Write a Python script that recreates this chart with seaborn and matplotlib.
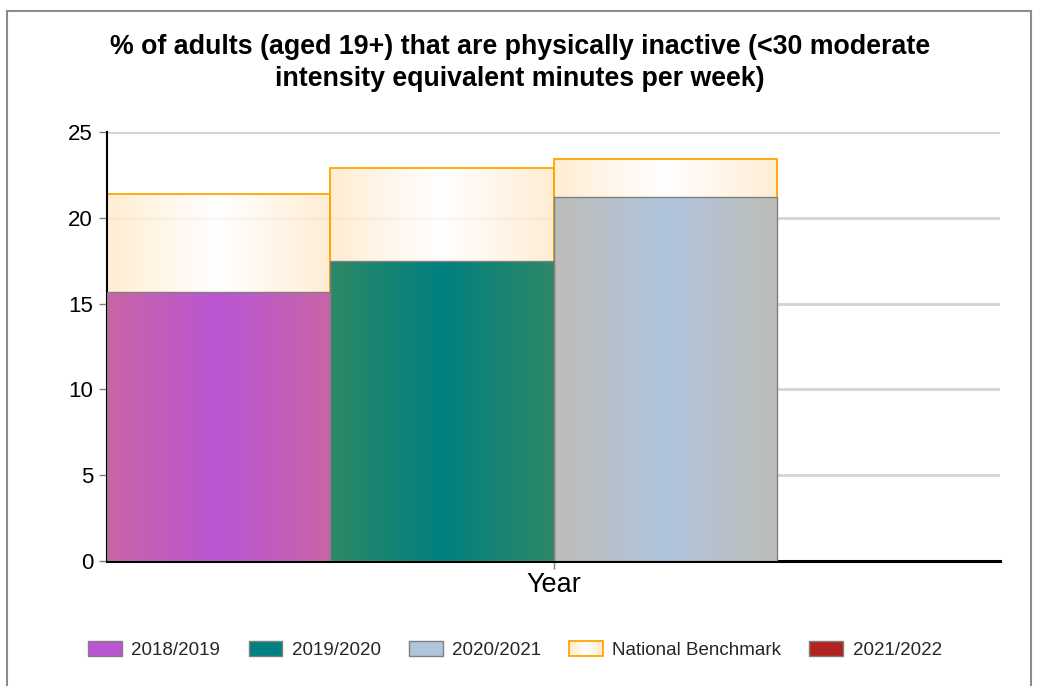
import numpy as np
import pandas as pd
import matplotlib
matplotlib.use("Agg")
import matplotlib.pyplot as plt
import seaborn as sns
from matplotlib.colors import to_rgb
from matplotlib.patches import Rectangle, Patch
from matplotlib.legend_handler import HandlerBase

# ---- data -------------------------------------------------------------
category = "Year"
periods = ["2018/2019", "2019/2020", "2020/2021", "2021/2022"]
inactive_pct = [15.7, 17.5, 21.2, np.nan]
benchmark_pct = [21.4, 22.9, 23.4, np.nan]
benchmark_label = "National Benchmark"
title = ("% of adults (aged 19+) that are physically inactive (<30 moderate\n"
         "intensity equivalent minutes per week)")

# ---- styling ------------------------------------------------------------
centre_colors = {"2018/2019": "#BA55D3", "2019/2020": "#008080",
                 "2020/2021": "#B0C4DE", "2021/2022": "#B22222"}
side_colors = {"2018/2019": "#C865A6", "2019/2020": "#2E8866",
               "2020/2021": "#BDBDB8", "2021/2022": "#B22222"}
bench_centre, bench_side, bench_edge = "#FFFFFF", "#FFEBCC", "#FFA500"

sns.set_theme(style="white")
plt.rcParams["font.family"] = ["Liberation Sans", "DejaVu Sans"]


def gradient(side, centre, n=256):
    t = np.abs(np.linspace(-1, 1, n))[:, None]
    s, c = np.array(to_rgb(side)), np.array(to_rgb(centre))
    return (c * (1 - t) + s * t)[None, :, :]


fig = plt.figure(figsize=(10.4, 6.86), dpi=100)
ax = fig.add_axes([107 / 1040, 1 - 561 / 686, 893 / 1040, 429 / 686])

df_bench = pd.DataFrame({"cat": [category] * len(periods), "period": periods,
                         "value": benchmark_pct})
df_main = pd.DataFrame({"cat": [category] * len(periods), "period": periods,
                        "value": inactive_pct})

sns.barplot(data=df_bench, x="cat", y="value", hue="period", hue_order=periods,
            palette=centre_colors, width=1.0, dodge=True, errorbar=None,
            legend=False, edgecolor=bench_edge, linewidth=1.3, zorder=2, ax=ax)
n_bench = len(ax.patches)
sns.barplot(data=df_main, x="cat", y="value", hue="period", hue_order=periods,
            palette=centre_colors, width=1.0, dodge=True, errorbar=None,
            legend=False, edgecolor="#808080", linewidth=1.0, zorder=3, ax=ax)

# replace flat fills with a horizontal side-centre-side gradient
slot = 1.0 / len(periods)
for i, p in enumerate(ax.patches):
    h = p.get_height()
    if not np.isfinite(h) or h == 0:
        continue
    x0, w = p.get_x(), p.get_width()
    k = int(round((x0 + w / 2 + 0.5) / slot - 0.5))
    if i < n_bench:
        img, alpha = gradient(bench_side, bench_centre), 0.85
    else:
        img, alpha = gradient(side_colors[periods[k]], centre_colors[periods[k]]), 1.0
    p.set_facecolor("none")
    im = ax.imshow(img, extent=[x0, x0 + w, 0, h], aspect="auto", alpha=alpha,
                   interpolation="bilinear", zorder=p.get_zorder() - 0.1)
    im.set_clip_path(p)

ax.set_xlim(-0.5, 0.5)
ax.set_ylim(0, 25)
ax.set_yticks([0, 5, 10, 15, 20, 25])
ax.set_xlabel("")
ax.set_ylabel("")
ax.set_axisbelow(True)
ax.yaxis.grid(True, color="#D4D4D4", linewidth=2.0)
ax.xaxis.grid(False)
for side in ("top", "right"):
    ax.spines[side].set_visible(False)
ax.spines["left"].set_color("black")
ax.spines["left"].set_linewidth(1.5)
ax.spines["bottom"].set_color("black")
ax.spines["bottom"].set_linewidth(2.2)
ax.tick_params(axis="y", left=True, length=6, width=1, color="#808080",
               labelsize=16, pad=4, labelcolor="black")
ax.tick_params(axis="x", bottom=True, length=6, width=1, color="#808080",
               labelsize=19.5, pad=2, labelcolor="black")

fig.text(0.5, 1 - 63 / 686, title, ha="center", va="center",
         fontsize=19.3, fontweight="bold", color="black", linespacing=1.32)

fig.add_artist(Rectangle((7 / 1040, -0.02), 1024 / 1040, 1 - 11 / 686 + 0.02,
                         transform=fig.transFigure, fill=False,
                         edgecolor="#8C8C8C", linewidth=1.5))


class GradientHandler(HandlerBase):
    def create_artists(self, legend, orig_handle, xdescent, ydescent,
                       width, height, fontsize, trans):
        n = 24
        cols = gradient(bench_side, bench_centre, n)[0]
        arts = []
        for j in range(n):
            arts.append(Rectangle((-xdescent + width * j / n, -ydescent),
                                  width / n + 0.3, height, facecolor=cols[j],
                                  edgecolor="none", transform=trans))
        arts.append(Rectangle((-xdescent, -ydescent), width, height,
                              facecolor="none", edgecolor=bench_edge,
                              linewidth=1.3, transform=trans))
        return arts


handles = [Patch(facecolor=centre_colors[p], edgecolor="#808080", linewidth=1.0)
           for p in periods]
bench_handle = Patch(facecolor="white", edgecolor=bench_edge)
order_h = handles[:3] + [bench_handle] + handles[3:]
order_l = periods[:3] + [benchmark_label] + periods[3:]
fig.legend(order_h, order_l, loc="center", ncol=5,
           bbox_to_anchor=(515 / 1040, 1 - 650 / 686), frameon=False,
           fontsize=13.5, handlelength=1.8, handleheight=0.85,
           handletextpad=0.5, columnspacing=1.5,
           handler_map={bench_handle: GradientHandler()})

fig.savefig("out.png", dpi=100)
